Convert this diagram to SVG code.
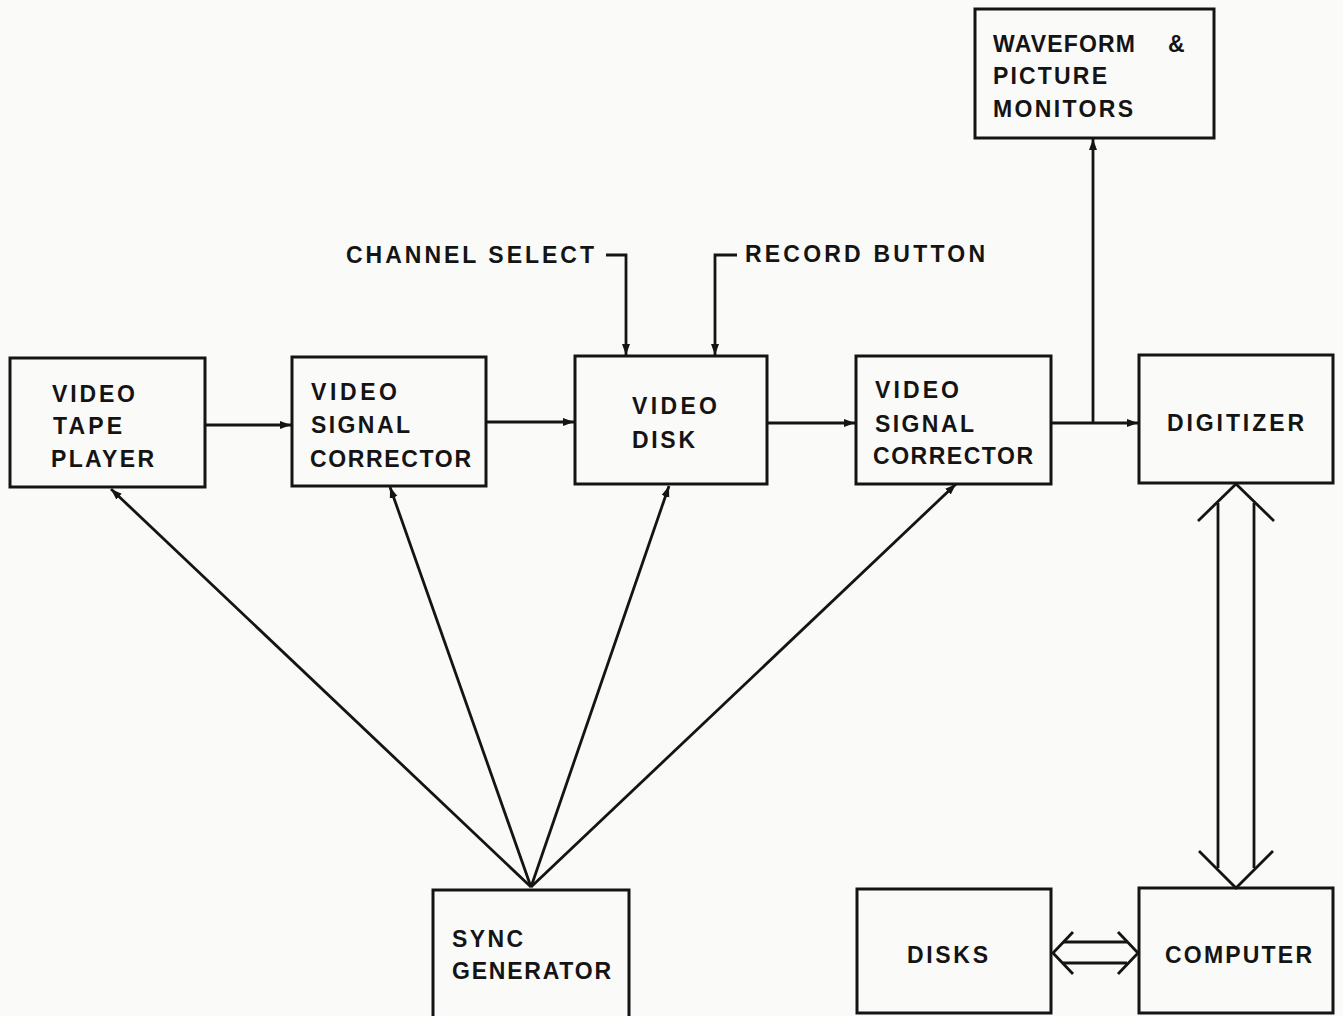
<svg xmlns="http://www.w3.org/2000/svg" width="1343" height="1016" viewBox="0 0 1343 1016">
<style>
.box{fill:none;stroke:#141414;stroke-width:3}
.ln{fill:none;stroke:#141414;stroke-width:2.8}
.dbl{fill:none;stroke:#141414;stroke-width:2.8;stroke-linejoin:miter}
text{font-family:"Liberation Sans",Arial,sans-serif;font-weight:bold;font-size:23px;fill:#141414}
</style>
<defs>
<marker id="ah" markerUnits="userSpaceOnUse" markerWidth="14" markerHeight="12" refX="11" refY="6" orient="auto">
<path d="M0,2 L11,6 L0,10 Z" fill="#141414"/>
</marker>
</defs>
<rect width="1343" height="1016" fill="#fafaf8"/>

<g id="connectors">
<line class="ln" x1="205" y1="425" x2="291" y2="425" marker-end="url(#ah)"/>
<line class="ln" x1="486" y1="422" x2="574" y2="422" marker-end="url(#ah)"/>
<line class="ln" x1="767" y1="423" x2="855" y2="423" marker-end="url(#ah)"/>
<line class="ln" x1="1051" y1="423" x2="1138" y2="423" marker-end="url(#ah)"/>
<line class="ln" x1="1093" y1="423" x2="1093" y2="139" marker-end="url(#ah)"/>
<polyline class="ln" points="606,255 626,255 626,355" marker-end="url(#ah)"/>
<polyline class="ln" points="737,255 715,255 715,355" marker-end="url(#ah)"/>
<line class="ln" x1="531" y1="887" x2="111" y2="489" marker-end="url(#ah)"/>
<line class="ln" x1="531" y1="887" x2="390" y2="487" marker-end="url(#ah)"/>
<line class="ln" x1="531" y1="887" x2="669" y2="486" marker-end="url(#ah)"/>
<line class="ln" x1="531" y1="887" x2="956" y2="484" marker-end="url(#ah)"/>
<g id="bus-digitizer-computer">
<polyline class="dbl" points="1198,521 1236,484 1274,521"/>
<line class="dbl" x1="1218" y1="503" x2="1218" y2="868"/>
<line class="dbl" x1="1254" y1="503" x2="1254" y2="868"/>
<polyline class="dbl" points="1199,851 1236,888 1273,851"/>
</g>
<g id="bus-disks-computer">
<polyline class="dbl" points="1073,932 1053,953 1073,974"/>
<line class="dbl" x1="1063" y1="942" x2="1127" y2="942"/>
<line class="dbl" x1="1063" y1="963" x2="1127" y2="963"/>
<polyline class="dbl" points="1118,932 1138,953 1118,974"/>
</g>
</g>

<g id="label-channel-select"><text x="346" y="263" textLength="248" lengthAdjust="spacing">CHANNEL SELECT</text></g>
<g id="label-record-button"><text x="745" y="262" textLength="240" lengthAdjust="spacing">RECORD BUTTON</text></g>

<g id="video-tape-player">
<rect class="box" x="10" y="358" width="195" height="129"/>
<text x="52" y="402" textLength="83" lengthAdjust="spacing">VIDEO</text>
<text x="53" y="434" textLength="69" lengthAdjust="spacing">TAPE</text>
<text x="51" y="467" textLength="103" lengthAdjust="spacing">PLAYER</text>
</g>
<g id="video-signal-corrector-1">
<rect class="box" x="292" y="357" width="194" height="129"/>
<text x="311" y="400" textLength="86" lengthAdjust="spacing">VIDEO</text>
<text x="311" y="433" textLength="99" lengthAdjust="spacing">SIGNAL</text>
<text x="310" y="467" textLength="161" lengthAdjust="spacing">CORRECTOR</text>
</g>
<g id="video-disk">
<rect class="box" x="575" y="356" width="192" height="128"/>
<text x="632" y="414" textLength="85" lengthAdjust="spacing">VIDEO</text>
<text x="632" y="448" textLength="63" lengthAdjust="spacing">DISK</text>
</g>
<g id="video-signal-corrector-2">
<rect class="box" x="856" y="356" width="195" height="128"/>
<text x="875" y="398" textLength="84" lengthAdjust="spacing">VIDEO</text>
<text x="875" y="432" textLength="99" lengthAdjust="spacing">SIGNAL</text>
<text x="873" y="464" textLength="160" lengthAdjust="spacing">CORRECTOR</text>
</g>
<g id="digitizer">
<rect class="box" x="1139" y="355" width="194" height="128"/>
<text x="1167" y="431" textLength="137" lengthAdjust="spacing">DIGITIZER</text>
</g>
<g id="waveform-picture-monitors">
<rect class="box" x="975" y="9" width="239" height="129"/>
<text x="993" y="52" textLength="142" lengthAdjust="spacing">WAVEFORM</text>
<text x="1168" y="52">&amp;</text>
<text x="993" y="84" textLength="114" lengthAdjust="spacing">PICTURE</text>
<text x="993" y="117" textLength="140" lengthAdjust="spacing">MONITORS</text>
</g>
<g id="sync-generator">
<rect class="box" x="433" y="890" width="196" height="130"/>
<text x="452" y="947" textLength="71" lengthAdjust="spacing">SYNC</text>
<text x="452" y="979" textLength="159" lengthAdjust="spacing">GENERATOR</text>
</g>
<g id="disks">
<rect class="box" x="857" y="889" width="194" height="124"/>
<text x="907" y="963" textLength="81" lengthAdjust="spacing">DISKS</text>
</g>
<g id="computer">
<rect class="box" x="1139" y="888" width="194" height="125"/>
<text x="1165" y="963" textLength="147" lengthAdjust="spacing">COMPUTER</text>
</g>
</svg>
